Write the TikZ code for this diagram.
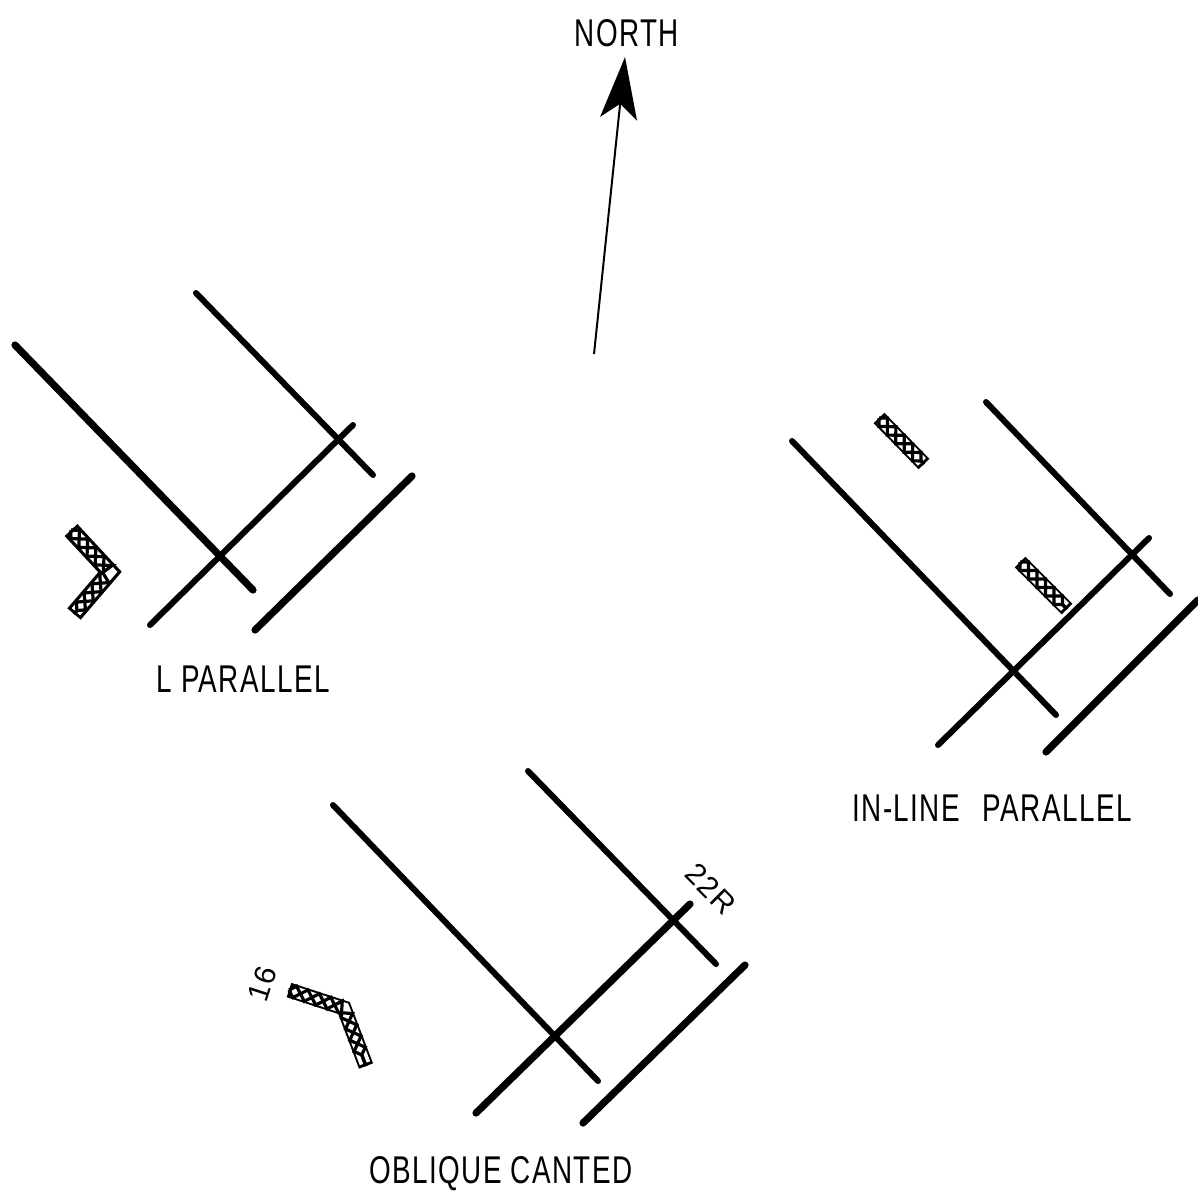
\documentclass[tikz,border=0pt]{standalone}
\usepackage{fontspec}
\newfontfamily\lblfont[LetterSpace=5]{Liberation Sans}
\usepackage{tikz}
\usetikzlibrary{arrows.meta,decorations.pathmorphing}

\tikzset{
  runway/.style={draw=black, line width=0.6mm, line cap=round},
  widerunway/.style={runway, line width=0.72mm},
  bldg/.style={draw=black, line width=1.75mm, line join=miter,
    postaction={draw=white, line width=1.1mm, shorten >=0.3mm, shorten <=0.3mm},
    postaction={draw=black, line width=0.32mm, decorate,
      decoration={zigzag, amplitude=0.6mm, segment length=2.4mm}},
    postaction={draw=black, line width=0.32mm, decorate,
      decoration={zigzag, amplitude=0.6mm, segment length=2.4mm, mirror}}},
  slimbldg/.style={bldg, line width=1.5mm},
  lbl/.style={font=\lblfont\fontsize{11}{13}\selectfont, inner sep=0pt, xscale=0.72},
  tiltlbl/.style={font=\lblfont\fontsize{8.5}{10}\selectfont, inner sep=0pt}
}

\begin{document}
\begin{tikzpicture}[x=0.01cm, y=-0.01cm]
    \useasboundingbox (0,0) rectangle (1198,1193);
    % north arrow
    \node[lbl] at (627,33) (north) {NORTH};
    \coordinate (Ntail) at (594,354);
    \coordinate (Ntip) at (625,57);
    \draw[line width=0.2mm, -{Stealth[length=6.2mm, width=3.7mm, inset=1.5mm]}] (Ntail) -- (Ntip);

    % L parallel
    \coordinate (La1) at (15,345);
    \coordinate (La2) at (253,590);
    \coordinate (Lb1) at (196,293);
    \coordinate (Lb2) at (373,475);
    \coordinate (Lc1) at (150,625);
    \coordinate (Lc2) at (353,425);
    \coordinate (Ld1) at (255,630);
    \coordinate (Ld2) at (412,476);
    \draw[widerunway] (La1) -- (La2);
    \draw[runway] (Lb1) -- (Lb2);
    \draw[runway] (Lc1) -- (Lc2);
    \draw[widerunway] (Ld1) -- (Ld2);
    \draw[bldg] (71,530) -- (110,572) -- (74,614);
    \node[lbl] at (243,679) (Lname) {L PARALLEL};

    % in-line parallel
    \coordinate (Ia1) at (792,441);
    \coordinate (Ia2) at (1056,715);
    \coordinate (Ib1) at (986,402);
    \coordinate (Ib2) at (1170,594);
    \coordinate (Ic1) at (938,745);
    \coordinate (Ic2) at (1149,538);
    \coordinate (Id1) at (1046,752);
    \coordinate (Id2) at (1198,600);
    \draw[runway] (Ia1) -- (Ia2);
    \draw[runway] (Ib1) -- (Ib2);
    \draw[runway] (Ic1) -- (Ic2);
    \draw[widerunway] (Id1) -- (Id2);
    \draw[slimbldg] (879,418) -- (924,464);
    \draw[slimbldg] (1020,562) -- (1067,609);
    \node[lbl] at (992,808) (Iname) {IN-LINE\hspace{0.5em} PARALLEL};

    % oblique canted
    \coordinate (Oa1) at (333,805);
    \coordinate (Oa2) at (598,1081);
    \coordinate (Ob1) at (528,771);
    \coordinate (Ob2) at (716,964);
    \coordinate (Oc1) at (476,1113);
    \coordinate (Oc2) at (690,904);
    \coordinate (Od1) at (583,1123);
    \coordinate (Od2) at (745,965);
    \draw[runway] (Oa1) -- (Oa2);
    \draw[runway] (Ob1) -- (Ob2);
    \draw[widerunway] (Oc1) -- (Oc2);
    \draw[widerunway] (Od1) -- (Od2);
    \draw[slimbldg] (289,990) -- (344,1008) -- (366,1066);
    \node[tiltlbl, rotate=-45] at (711,889) (Orunway) {22R};
    \node[tiltlbl, rotate=72] at (262,984) (Obldg) {16};
    \node[lbl] at (501,1174) (Oname) {OBLIQUE CANTED};
\end{tikzpicture}
\end{document}
